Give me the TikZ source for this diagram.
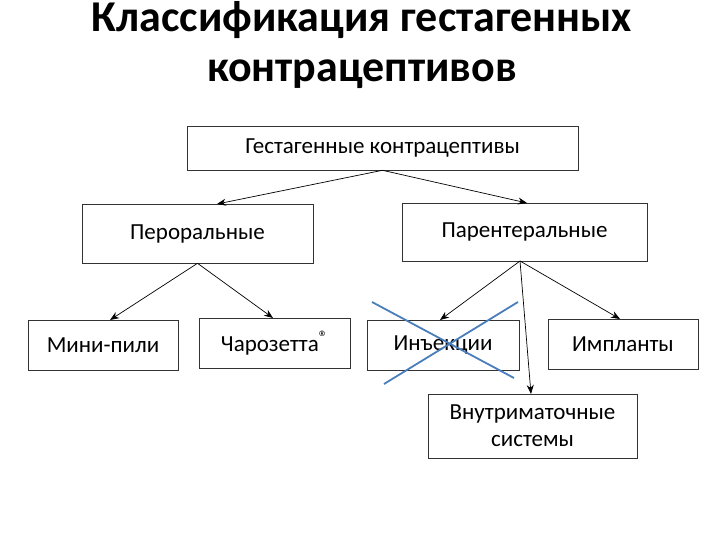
\documentclass[tikz,border=0pt]{standalone}
\usepackage{fontspec}
\setmainfont{Carlito}
\usetikzlibrary{arrows.meta}
\definecolor{crossblue}{RGB}{74,126,187}
\begin{document}
\begin{tikzpicture}[x=1pt,y=-1pt,
  box/.style={draw=black!80,line width=0.6pt,inner sep=0pt,font=\fontsize{23}{27}\selectfont},
  arr/.style={line width=0.7pt,-{Stealth[length=9pt,width=7pt]}}]
\useasboundingbox (0,0) rectangle (720,540);
\node[font=\fontsize{44}{50}\selectfont\bfseries,align=center] (title) at (362,45) {Классификация гестагенных\\контрацептивов};
\node[box,minimum width=391pt,minimum height=44pt] (g) at (382.5,148) {Гестагенные контрацептивы};
\node[box,minimum width=231pt,minimum height=59pt] (p) at (197.5,233.5) {Пероральные};
\node[box,minimum width=245pt,minimum height=58pt] (par) at (524.5,232) {Парентеральные};
\node[box,minimum width=150pt,minimum height=50pt] (m) at (103,345) {Мини-пили};
\node[box,minimum width=151pt,minimum height=50pt] (c) at (274.5,343) {Чарозетта{\fontsize{18}{20}\selectfont\raisebox{0.45em}{®}}};
\node[box,minimum width=152pt,minimum height=50pt] (i) at (443,345) {Инъекции};
\node[box,minimum width=150pt,minimum height=50pt] (im) at (623,344) {Импланты};
\node[box,minimum width=209pt,minimum height=64pt,align=center] (v) at (532.5,426) {Внутриматочные\\системы};
\draw[arr] (g.south) -- (217,204);
\draw[arr] (g.south) -- (527,203);
\draw[arr] (p.south) -- (110,320);
\draw[arr] (p.south) -- (273,318);
\draw[arr] (520,261) -- (440,320);
\draw[arr] (520,261) -- (620,319);
\draw[arr] (520,261) -- (531,394);
\draw[crossblue,line width=1.8pt] (372,302) -- (514,378);
\draw[crossblue,line width=1.8pt] (518,302) -- (384,384);
\end{tikzpicture}
\end{document}
